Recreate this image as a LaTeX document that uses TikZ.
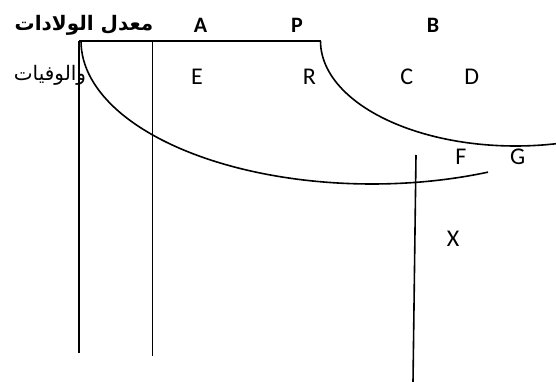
\documentclass[tikz,border=0pt]{standalone}
\usepackage{fontspec}
\setmainfont{Carlito}
\newfontfamily\arabicfont[Script=Arabic]{DejaVu Sans}
\TeXXeTstate=1
\begin{document}
\begin{tikzpicture}[x=1pt,y=-1pt,
  ln/.style={line width=1.6pt, black},
  hd/.style={font=\fontsize{22}{24}\selectfont\bfseries, anchor=base, inner sep=0pt},
  lt/.style={font=\fontsize{24}{26}\selectfont, anchor=base, inner sep=0pt},
  ar/.style={inner sep=0pt, anchor=center}]
\useasboundingbox (0,0) rectangle (556,382);
% lines
\coordinate (tl) at (79,41);
\coordinate (tr) at (320.5,41);
\draw[ln] (tl) -- (tr);
\coordinate (v1t) at (78.7,41);
\coordinate (v1b) at (78.7,353);
\coordinate (v2t) at (152.5,41);
\coordinate (v2b) at (152.5,356);
\coordinate (v3t) at (416,155);
\coordinate (v3b) at (413,382);
\draw[ln] (v1t) -- (v1b);
\draw[ln] (v2t) -- (v2b);
\draw[ln] (v3t) -- (v3b);
% curves
\draw[ln] (81,41) arc[start angle=180, end angle=66.5, x radius=291, y radius=143];
\draw[ln] (tr) arc[start angle=180, end angle=78, x radius=195, y radius=105];
% texts
\node[ar] (t1) at (84,25) {\arabicfont\fontsize{20}{22}\selectfont\bfseries\beginR معدل الولادات\endR};
\node[ar] (t2) at (50,75) {\arabicfont\fontsize{20}{22}\selectfont\beginR والوفيات\endR};
\node[hd] (A) at (200.5,32.5) {A};
\node[hd] (P) at (297,32.5) {P};
\node[hd] (B) at (433,32.5) {B};
\node[lt] (E) at (197,84.5) {E};
\node[lt] (R) at (309.3,84.5) {R};
\node[lt] (C) at (406.7,84.5) {C};
\node[lt] (D) at (471.7,84.5) {D};
\node[lt] (F) at (461,164.5) {F};
\node[lt] (G) at (517.7,164.5) {G};
\node[lt] (X) at (453,246) {X};
\end{tikzpicture}
\end{document}
